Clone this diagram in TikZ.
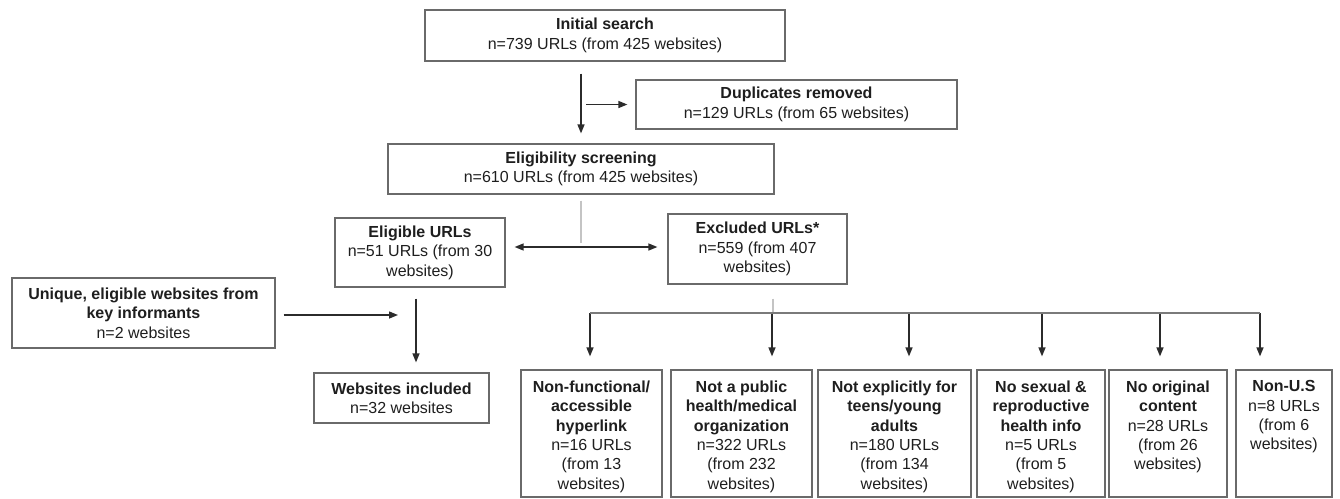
\documentclass[tikz,border=0pt]{standalone}
\usepackage{fontspec}
\setmainfont{Liberation Sans}
\usetikzlibrary{arrows.meta,positioning}
\definecolor{PRink}{HTML}{1E1E1E}
\definecolor{PRframe}{HTML}{6A6A6A}
\definecolor{PRarrow}{HTML}{2B2B2B}
\definecolor{PRfaint}{HTML}{C4C4C4}
\definecolor{PRbus}{HTML}{7A7A7A}
\newcommand{\hd}[1]{\textbf{#1}}

\begin{document}
\begin{tikzpicture}[
  x=1pt,y=-1pt,
  font=\fontsize{16}{19.4}\selectfont,
  >={Triangle[length=9pt,width=7pt]},
  flow/.style={draw=PRarrow,line width=1.4pt,->},
  twoway/.style={draw=PRarrow,line width=1.4pt,<->},
  faint/.style={draw=PRfaint,line width=1.4pt},
  busline/.style={draw=PRbus,line width=1.2pt},
  box/.style={draw=PRframe,line width=1.2pt,inner sep=0pt,align=center,text=PRink},
  cause/.style={inner sep=0pt,align=center,text=PRink}
]
\useasboundingbox (0,0) rectangle (1340,498);

% search and screening
\node[box,minimum width=360pt,minimum height=51pt] (init) at (605,35.5)
  {\hd{Initial search}\\n=739 URLs (from 425 websites)};
\node[box,minimum width=321pt,minimum height=49pt] (dup) at (796.5,104.5)
  {\hd{Duplicates removed}\\n=129 URLs (from 65 websites)};
\node[box,minimum width=386pt,minimum height=50pt] (elig) at (581,169)
  {\hd{Eligibility screening}\\n=610 URLs (from 425 websites)};

\draw[flow,shorten <=12pt,shorten >=10pt] (elig.north |- init.south) -- (elig.north);
\draw[flow,shorten <=5pt,shorten >=8pt] (elig.north |- dup.west) -- (dup.west);

% split into eligible / excluded
\node[box,minimum width=170pt,minimum height=69pt] (eligible) at (420,252.5)
  {\hd{Eligible URLs}\\n=51 URLs (from 30\\websites)};
\node[box,minimum width=179pt,minimum height=70pt] (excluded) at (757.5,249)
  {\hd{Excluded URLs*}\\n=559 (from 407\\websites)};
\coordinate (split) at (581,247);
\draw[faint,shorten <=6pt,shorten >=4pt] (elig.south) -- (split);
\draw[twoway,shorten <=9pt,shorten >=10pt] (split -| eligible.east) -- (split -| excluded.west);

% key informants join the eligible stream
\node[box,minimum width=263pt,minimum height=70pt] (unique) at (143.5,313)
  {\hd{Unique, eligible websites from}\\\hd{key informants}\\n=2 websites};
\node[box,minimum width=175pt,minimum height=50pt] (included) at (401.5,398)
  {\hd{Websites included}\\n=32 websites};
\coordinate (merge) at (416,315);
\draw[flow,shorten <=11pt,shorten >=10pt] (merge |- eligible.south) -- (merge |- included.north);
\draw[flow,shorten <=8pt,shorten >=18pt] (unique.east |- merge) -- (merge);

% exclusion reasons
\foreach \name/\cx/\w in {nf/591.5/141,pub/741.5/141,teen/894.5/153,srh/1041/128,orig/1168/118,nonus/1284/96}{
  \node[box,minimum width=\w pt,minimum height=127pt] (\name) at (\cx,433.5) {};
}
\node[cause,below=11pt of nf.north] (nftext)
  {\hd{Non-functional/}\\\hd{accessible}\\\hd{hyperlink}\\n=16 URLs\\(from 13\\websites)};
\node[cause,below=11pt of pub.north] (pubtext)
  {\hd{Not a public}\\\hd{health/medical}\\\hd{organization}\\n=322 URLs\\(from 232\\websites)};
\node[cause,below=11pt of teen.north] (teentext)
  {\hd{Not explicitly for}\\\hd{teens/young}\\\hd{adults}\\n=180 URLs\\(from 134\\websites)};
\node[cause,below=11pt of srh.north] (srhtext)
  {\hd{No sexual \&}\\\hd{reproductive}\\\hd{health info}\\n=5 URLs\\(from 5\\websites)};
\node[cause,below=11pt of orig.north] (origtext)
  {\hd{No original}\\\hd{content}\\n=28 URLs\\(from 26\\websites)};
\node[cause,below=11pt of nonus.north] (nonustext)
  {\hd{Non-U.S}\\n=8 URLs\\(from 6\\websites)};

\coordinate (bus) at (773,313);
\draw[faint,shorten <=14pt] (bus |- excluded.south) -- (bus);
\foreach \name/\ax in {nf/590,pub/772,teen/909,srh/1042,orig/1160,nonus/1260}{
  \coordinate (\name top) at (\ax,313);
  \draw[flow,shorten >=13pt] (\name top) -- (\name top |- \name.north);
}
\draw[busline] (nftop) -- (nonustop);

\end{tikzpicture}
\end{document}
